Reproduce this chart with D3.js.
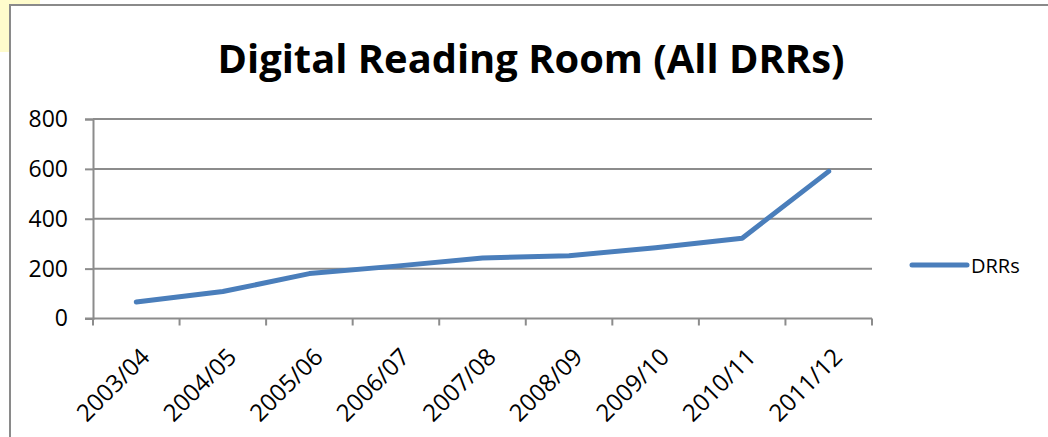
<!DOCTYPE html>
<html>
<head>
<meta charset="utf-8">
<script src="https://cdn.jsdelivr.net/npm/d3@7.9.0/dist/d3.min.js"></script>
<style>
  body { margin: 0; background: #fff; }
  svg { display: block; font-family: "Open Sans", sans-serif; }
</style>
</head>
<body>
<svg id="chart" width="1048" height="437"></svg>
<script>
const years = ['2003/04', '2004/05', '2005/06', '2006/07', '2007/08', '2008/09', '2009/10', '2010/11', '2011/12'];
const drrs = [66, 108, 180, 210, 243, 252, 284, 322, 590];
const yTicks = [0, 200, 400, 600, 800];
const seriesName = 'DRRs';
const title = 'Digital Reading Room (All DRRs)';

const svg = d3.select('#chart');
const blue = '#4a7ebb';
const grid = '#8c8c8c';

// yellow patch + chart frame
svg.append('rect').attr('x', 0).attr('y', 0).attr('width', 40).attr('height', 52).attr('fill', '#fffccc');
svg.append('rect').attr('x', 10).attr('y', 5).attr('width', 1060).attr('height', 460)
    .attr('fill', '#fff').attr('stroke', '#8a8a8a').attr('stroke-width', 2);

const plot = { left: 93, right: 872, top: 119, bottom: 318.5 };

let x = d3.scaleBand().domain(years).range([plot.left, plot.right]);
let y = d3.scaleLinear().domain([0, 800]).range([plot.bottom, plot.top]);

// gridlines
svg.append('g').selectAll('line').data(yTicks.filter(d => d > 0)).join('line')
    .attr('x1', plot.left).attr('x2', plot.right)
    .attr('y1', d => y(d)).attr('y2', d => y(d))
    .attr('stroke', grid).attr('stroke-width', 2);

// y axis
let yAxis = svg.append('g').attr('transform', `translate(${plot.left},0)`)
    .call(d3.axisLeft(y).tickValues(yTicks).tickSize(8).tickPadding(17));
yAxis.select('.domain').attr('stroke', grid).attr('stroke-width', 2);
yAxis.selectAll('.tick line').attr('stroke', grid).attr('stroke-width', 2);
yAxis.selectAll('text').attr('font-size', 23).attr('fill', '#000')
    .attr('font-family', '"Open Sans", sans-serif');

// x axis: ticks on band edges
let edges = years.map(d => x(d)).concat([plot.right]);
let xAxis = svg.append('g').attr('transform', `translate(0,${plot.bottom})`);
xAxis.append('line').attr('x1', plot.left - 8).attr('x2', plot.right)
    .attr('stroke', grid).attr('stroke-width', 2);
xAxis.selectAll('line.tk').data(edges).join('line').attr('class', 'tk')
    .attr('x1', d => d).attr('x2', d => d).attr('y1', 0).attr('y2', 7)
    .attr('stroke', grid).attr('stroke-width', 2);
xAxis.selectAll('text').data(years).join('text')
    .attr('transform', d => `translate(${x(d) + x.bandwidth() / 2 + 15},${40}) rotate(-45)`)
    .attr('text-anchor', 'end')
    .attr('font-size', 24)
    .text(d => d);

// line
let line = d3.line()
    .x((d, i) => x(years[i]) + x.bandwidth() / 2)
    .y(d => y(d));
svg.append('path').datum(drrs)
    .attr('d', line)
    .attr('fill', 'none')
    .attr('stroke', blue)
    .attr('stroke-width', 5)
    .attr('stroke-linecap', 'round')
    .attr('stroke-linejoin', 'round');

// legend
let legend = svg.append('g').attr('transform', 'translate(912,265)');
legend.append('line').attr('x1', 0).attr('x2', 55).attr('y1', 0).attr('y2', 0)
    .attr('stroke', blue).attr('stroke-width', 5).attr('stroke-linecap', 'round');
legend.append('text').attr('x', 59).attr('y', 8).attr('font-size', 20).text(seriesName);

// title, sized to span the same width as the original
let t = svg.append('text').attr('x', 531).attr('y', 73)
    .attr('text-anchor', 'middle').attr('font-weight', 'bold').attr('font-size', 40)
    .text(title);
let w = t.node().getComputedTextLength();
t.attr('font-size', 40 * 627 / w);
</script>
</body>
</html>
